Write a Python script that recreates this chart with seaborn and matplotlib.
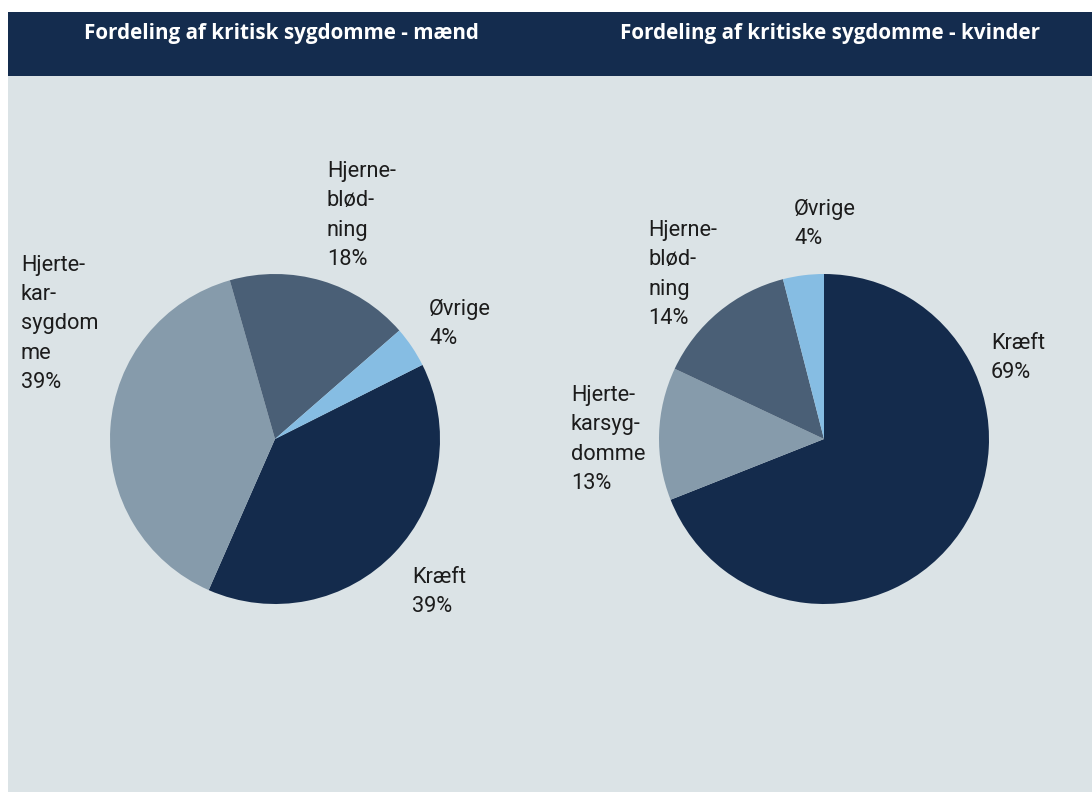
import matplotlib
matplotlib.use("Agg")
import matplotlib.pyplot as plt
import seaborn as sns

# Shares of critical illness claims (percent)
categories = ["Kræft", "Hjerte-kar", "Hjerneblødning", "Øvrige"]
men_values = [39, 39, 18, 4]
women_values = [69, 13, 14, 4]

men_labels = ["Kræft\n39%", "Hjerte-\nkar-\nsygdom\nme\n39%", "Hjerne-\nblød-\nning\n18%", "Øvrige\n4%"]
women_labels = ["Kræft\n69%", "Hjerte-\nkarsyg-\ndomme\n13%", "Hjerne-\nblød-\nning\n14%", "Øvrige\n4%"]

men_title = "Fordeling af kritisk sygdomme - mænd"
women_title = "Fordeling af kritiske sygdomme - kvinder"

sns.set_theme(style="white")
plt.rcParams["font.family"] = ["Roboto", "DejaVu Sans"]

palette = sns.color_palette(["#142b4c", "#869bab", "#4a5f76", "#86bde3"])
BG = "#dbe3e6"
HEAD = "#142c4e"

W, H = 1092, 792
fig = plt.figure(figsize=(W / 100, H / 100), dpi=100)
fig.patch.set_facecolor("white")


def px_axes(x0, y0, x1, y1, **kw):
    """Axes placed by pixel box (top-left origin)."""
    return fig.add_axes([x0 / W, 1 - y1 / H, (x1 - x0) / W, (y1 - y0) / H], **kw)


def blank(ax, color):
    ax.set_facecolor(color)
    ax.set_xticks([]); ax.set_yticks([])
    for s in ax.spines.values():
        s.set_visible(False)


# panel background and header band
blank(px_axes(8, 12, W, H), BG)
blank(px_axes(8, 12, W, 76), HEAD)

title_font = dict(color="white", fontsize=14.9, fontweight="bold",
                  family=["Open Sans", "Roboto", "DejaVu Sans"],
                  ha="center", va="baseline")
fig.text(281.5 / W, 1 - 39 / H, men_title, **title_font)
fig.text(830 / W, 1 - 39 / H, women_title, **title_font)

R = 165


def draw_pie(cx, cy, values, labels, startangle, label_pos):
    ax = px_axes(cx - R, cy - R, cx + R, cy + R)
    ax.pie(values, colors=palette, startangle=startangle, counterclock=False,
           radius=1.0, wedgeprops=dict(linewidth=0))
    ax.set_xlim(-1, 1); ax.set_ylim(-1, 1)
    ax.set_aspect("equal")
    ax.axis("off")
    for lab, (lx, ly) in zip(labels, label_pos):
        fig.text(lx / W, 1 - ly / H, lab, color="#1c1c1c", fontsize=15.7,
                 ha="left", va="baseline", linespacing=1.52)


# label anchors: left edge and baseline of the last line, in pixels
draw_pie(275, 439, men_values, men_labels, 26.7,
         [(412, 612), (21, 388), (327, 265), (429, 344)])
draw_pie(824, 439, women_values, women_labels, 90,
         [(991, 378), (571, 489), (648, 324), (794, 244)])

fig.savefig("out.png", dpi=100, facecolor=fig.get_facecolor())
